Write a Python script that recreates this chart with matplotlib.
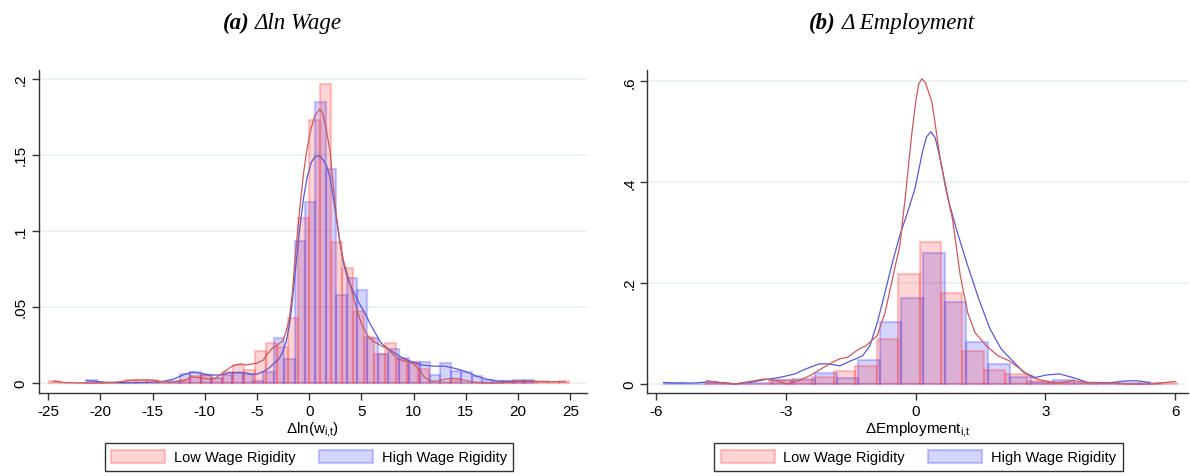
import numpy as np
import matplotlib
matplotlib.use("Agg")
import matplotlib.pyplot as plt
from matplotlib.patches import Patch

plt.rcParams['font.family'] = ['Liberation Sans Narrow', 'Liberation Sans', 'DejaVu Sans']
plt.rcParams['mathtext.fontset'] = 'custom'
plt.rcParams['mathtext.rm'] = 'Liberation Sans'
plt.rcParams['mathtext.it'] = 'Liberation Sans'

# ---------------- Panel (a): wage growth ----------------
wage_low_start, wage_low_width = -24.9, 1.038
wage_low_hist = [0.0015, 0.0, 0.0, 0.0, 0.0, 0.0, 0.0, 0.0018, 0.0018, 0.0018,
                 0.0005, 0.0, 0.002, 0.0044, 0.005, 0.003, 0.007, 0.0116, 0.0087,
                 0.021, 0.026, 0.0234, 0.0426, 0.1086, 0.173, 0.1965, 0.0925,
                 0.0758, 0.047, 0.030, 0.019, 0.026, 0.0155, 0.0137, 0.009, 0.0,
                 0.0005, 0.002, 0.0, 0.0, 0.0, 0.0, 0.0015, 0.0008, 0.0008, 0.0015,
                 0.0008, 0.0015]

wage_high_start, wage_high_width = -21.34, 0.997
wage_high_hist = [0.0022, 0.0, 0.0, 0.0, 0.0, 0.0, 0.0, 0.0, 0.0015, 0.006, 0.0075,
                  0.005, 0.003, 0.005, 0.0065, 0.006, 0.0015, 0.0074, 0.0295,
                  0.016, 0.0935, 0.1187, 0.1847, 0.1403, 0.0575, 0.0689, 0.0608,
                  0.0295, 0.019, 0.022, 0.0164, 0.0138, 0.0138, 0.0055, 0.013,
                  0.008, 0.0075, 0.0044, 0.002, 0.0012, 0.0015, 0.002, 0.002]

wage_low_kde_x = [-24.5, -23.5, -22, -20, -18.5, -17, -16, -15, -14, -13, -12, -11.3,
                  -10.5, -9.5, -9, -8.3, -7.5, -7, -6.5, -6, -5.5, -5, -4.4, -4, -3.5,
                  -3, -2.5, -2.2, -1.9, -1.6, -1.4, -1.1, -0.9, -0.55, -0.3, 0.1, 0.5,
                  1.0, 1.3, 1.6, 2.0, 2.3, 2.6, 3.0, 3.3, 3.6, 4.1, 4.6, 5.0, 5.5, 6.0,
                  6.5, 7.0, 7.5, 8.0, 8.5, 9.0, 9.5, 10.0, 10.5, 11.0, 11.5, 12.0,
                  12.5, 13.0, 13.8, 14.5, 15.0, 16, 17, 18, 19, 20, 21, 22, 23, 24.5]
wage_low_kde_y = [0.0012, 0.0003, 0.0, 0.0, 0.0005, 0.0018, 0.002, 0.0018, 0.0008,
                  0.0006, 0.0015, 0.004, 0.0035, 0.0025, 0.003, 0.0065, 0.0105, 0.012,
                  0.0125, 0.0118, 0.0125, 0.013, 0.015, 0.019, 0.023, 0.025, 0.028,
                  0.034, 0.042, 0.06, 0.078, 0.1, 0.115, 0.137, 0.15, 0.165, 0.175,
                  0.18, 0.177, 0.168, 0.152, 0.13, 0.11, 0.09, 0.08, 0.073, 0.06,
                  0.047, 0.039, 0.032, 0.028, 0.026, 0.024, 0.023, 0.019, 0.016,
                  0.0145, 0.014, 0.0125, 0.009, 0.004, 0.0015, 0.001, 0.0015, 0.0025,
                  0.003, 0.0025, 0.0015, 0.0003, 0.0, 0.0, 0.0005, 0.0012, 0.0012,
                  0.0008, 0.0008, 0.0008]

wage_high_kde_x = [-21.3, -20.5, -19.5, -18, -16, -15, -14, -13, -12, -11.2, -10.5,
                   -9.5, -8.5, -7.7, -6.7, -6, -5.4, -4.9, -4.4, -3.9, -3.5, -3.0,
                   -2.8, -2.5, -2.2, -1.9, -1.7, -1.45, -1.2, -0.9, -0.55, -0.2, 0.2,
                   0.6, 1.0, 1.4, 1.7, 2.0, 2.3, 2.6, 2.95, 3.3, 3.7, 4.1, 4.5, 4.9,
                   5.4, 5.9, 6.4, 6.8, 7.4, 8.1, 8.8, 9.4, 10.0, 10.6, 11.2, 12, 13,
                   14, 14.5, 15, 15.5, 16, 16.5, 17, 18, 19, 20, 21, 21.6]
wage_high_kde_y = [0.0015, 0.0012, 0.0004, 0.0002, 0.0003, 0.0005, 0.001, 0.0025,
                   0.0055, 0.0072, 0.0065, 0.0052, 0.0052, 0.0066, 0.007, 0.0065,
                   0.0055, 0.006, 0.0075, 0.0095, 0.012, 0.015, 0.017, 0.021, 0.027,
                   0.038, 0.048, 0.065, 0.082, 0.102, 0.121, 0.135, 0.145, 0.149,
                   0.149, 0.146, 0.142, 0.135, 0.122, 0.108, 0.092, 0.078, 0.068,
                   0.062, 0.056, 0.051, 0.045, 0.038, 0.032, 0.027, 0.023, 0.02,
                   0.017, 0.015, 0.0135, 0.012, 0.0115, 0.011, 0.011, 0.0095, 0.0085,
                   0.0075, 0.006, 0.0045, 0.0035, 0.0025, 0.0013, 0.001, 0.0013,
                   0.0013, 0.0012]

wage_xticks = [-25, -20, -15, -10, -5, 0, 5, 10, 15, 20, 25]
wage_yticks = [0, 0.05, 0.1, 0.15, 0.2]
wage_ytick_labels = ['0', '.05', '.1', '.15', '.2']

# ---------------- Panel (b): employment growth ----------------
emp_low_start, emp_low_width = -4.883, 0.497
emp_low_hist = [0.003, 0.001, 0.001, 0.007, 0.007, 0.014, 0.025, 0.035, 0.09, 0.218,
                0.282, 0.18, 0.066, 0.027, 0.019, 0.005, 0.004, 0.002, 0.001, 0.001,
                0.001, 0.002]

emp_high_start, emp_high_width = -5.83, 0.5
emp_high_hist = [0.002, 0.001, 0.003, 0.001, 0.002, 0.008, 0.01, 0.022, 0.011, 0.048,
                 0.122, 0.17, 0.259, 0.163, 0.084, 0.04, 0.0135, 0.004, 0.0086,
                 0.002, 0.002, 0.003, 0.002]

emp_low_kde_x = [-4.84, -4.54, -4.19, -3.84, -3.5, -3.23, -2.97, -2.71, -2.45, -2.19,
                 -1.93, -1.76, -1.58, -1.32, -1.15, -0.89, -0.71, -0.54, -0.37,
                 -0.23, -0.1, 0.0, 0.07, 0.14, 0.22, 0.3, 0.37, 0.45, 0.55, 0.68,
                 0.85, 1.03, 1.2, 1.37, 1.63, 1.9, 2.16, 2.42, 2.68, 3.03, 3.29,
                 3.63, 3.98, 4.42, 4.85, 5.46, 6.0]
emp_low_kde_y = [0.0066, 0.003, 0.0, 0.005, 0.01, 0.0066, 0.0, 0.0066, 0.0165, 0.03,
                 0.043, 0.05, 0.053, 0.069, 0.076, 0.096, 0.142, 0.208, 0.274, 0.38,
                 0.49, 0.56, 0.595, 0.605, 0.598, 0.578, 0.56, 0.515, 0.455, 0.393,
                 0.327, 0.215, 0.142, 0.102, 0.076, 0.056, 0.046, 0.03, 0.013, 0.005,
                 0.002, 0.0066, 0.003, 0.003, 0.0, 0.0, 0.005]

emp_high_kde_x = [-5.84, -5.58, -5.15, -4.71, -4.19, -3.84, -3.5, -3.15, -2.8, -2.54,
                  -2.23, -2.02, -1.76, -1.5, -1.23, -1.06, -0.89, -0.71, -0.54, -0.37,
                  -0.19, -0.02, 0.16, 0.25, 0.35, 0.45, 0.55, 0.77, 0.94, 1.2, 1.46,
                  1.72, 1.98, 2.24, 2.5, 2.77, 3.03, 3.33, 3.63, 3.98, 4.42, 4.85,
                  5.11, 5.42]
emp_high_kde_y = [0.003, 0.002, 0.002, 0.0046, 0.0, 0.003, 0.0086, 0.013, 0.02, 0.03,
                  0.04, 0.04, 0.036, 0.046, 0.056, 0.076, 0.122, 0.182, 0.241, 0.294,
                  0.34, 0.387, 0.462, 0.49, 0.5, 0.488, 0.452, 0.36, 0.307, 0.235,
                  0.168, 0.109, 0.069, 0.046, 0.023, 0.013, 0.018, 0.02, 0.013, 0.003,
                  0.002, 0.006, 0.0066, 0.003]

emp_xticks = [-6, -3, 0, 3, 6]
emp_yticks = [0, 0.2, 0.4, 0.6]
emp_ytick_labels = ['0', '.2', '.4', '.6']

legend_labels = ['Low Wage Rigidity', 'High Wage Rigidity']

# ---------------- Styling ----------------
W, H = 1190, 477
LOW_FILL = (1.0, 0.0, 0.0, 0.17)
LOW_EDGE = (1.0, 0.25, 0.25, 0.28)
HIGH_FILL = (0.0, 0.0, 1.0, 0.17)
HIGH_EDGE = (0.25, 0.25, 1.0, 0.28)
LOW_LINE = '#cc5a5a'
HIGH_LINE = '#5a5ad0'
GRID = '#eaf2f3'
TICK_FS = 11

fig = plt.figure(figsize=(W / 100, H / 100), dpi=100)


def px_axes(x0, x1, y0, y1):
    return fig.add_axes([x0 / W, 1 - y1 / H, (x1 - x0) / W, (y1 - y0) / H])


def draw_hist(ax, start, width, heights, fill, edge):
    heights = np.asarray(heights)
    lefts = start + width * np.arange(len(heights))
    ax.bar(lefts, heights, width=width, align='edge', color=fill,
           edgecolor=edge, linewidth=1.6, zorder=2)


def style_axes(ax, xticks, yticks, ylabels, xlim, ylim):
    ax.set_xlim(*xlim)
    ax.set_ylim(*ylim)
    ax.set_xticks(xticks)
    ax.set_xticklabels([str(t) for t in xticks], fontsize=TICK_FS)
    ax.set_yticks(yticks)
    ax.set_yticklabels(ylabels, fontsize=TICK_FS, rotation=90, va='center')
    for yt in yticks:
        ax.axhline(yt, color=GRID, lw=1.4, zorder=0)
    for side in ('top', 'right'):
        ax.spines[side].set_visible(False)
    for side in ('left', 'bottom'):
        ax.spines[side].set_linewidth(1.0)
        ax.spines[side].set_color('#333333')
    ax.tick_params(direction='out', length=5, width=1.0, color='#333333', pad=3)


# Panel (a)
ax1 = px_axes(38.7, 587, 70.7, 394)
draw_hist(ax1, wage_high_start, wage_high_width, wage_high_hist, HIGH_FILL, HIGH_EDGE)
draw_hist(ax1, wage_low_start, wage_low_width, wage_low_hist, LOW_FILL, LOW_EDGE)
ax1.plot(wage_high_kde_x, wage_high_kde_y, color=HIGH_LINE, lw=0.9, zorder=3)
ax1.plot(wage_low_kde_x, wage_low_kde_y, color=LOW_LINE, lw=0.9, zorder=3)
style_axes(ax1, wage_xticks, wage_yticks, wage_ytick_labels, (-25.9, 26.6), (-0.0066, 0.2058))
ax1.set_xlabel(r'$\Delta$ln(w$_{\mathregular{i{,}t}}$)', fontsize=TICK_FS, labelpad=1)

# Panel (b)
ax2 = px_axes(647.4, 1188, 70.7, 394)
draw_hist(ax2, emp_high_start, emp_high_width, emp_high_hist, HIGH_FILL, HIGH_EDGE)
draw_hist(ax2, emp_low_start, emp_low_width, emp_low_hist, LOW_FILL, LOW_EDGE)
ax2.plot(emp_high_kde_x, emp_high_kde_y, color=HIGH_LINE, lw=0.9, zorder=3)
ax2.plot(emp_low_kde_x, emp_low_kde_y, color=LOW_LINE, lw=0.9, zorder=3)
style_axes(ax2, emp_xticks, emp_yticks, emp_ytick_labels, (-6.21, 6.3), (-0.0178, 0.623))
ax2.set_xlabel(r'$\Delta$Employment$_{\mathregular{i{,}t}}$', fontsize=TICK_FS, labelpad=1)

# Panel titles
title_kw = dict(family=['Liberation Serif', 'DejaVu Serif'], style='italic', fontsize=16.5, va='center')
fig.text(250 / W, 1 - 23 / H, '(a)', weight='bold', ha='right', **title_kw)
fig.text(255 / W, 1 - 23 / H, 'Δln Wage', ha='left', **title_kw)
fig.text(836 / W, 1 - 23 / H, '(b)', weight='bold', ha='right', **title_kw)
fig.text(842 / W, 1 - 23 / H, 'Δ Employment', ha='left', **title_kw)

# Legends
handles = [Patch(facecolor=LOW_FILL, edgecolor=LOW_EDGE, linewidth=1.6),
           Patch(facecolor=HIGH_FILL, edgecolor=HIGH_EDGE, linewidth=1.6)]
for cx in (309, 918.5):
    leg = fig.legend(handles, legend_labels, loc='center', ncol=2,
                     bbox_to_anchor=(cx / W, 1 - 458 / H), fontsize=10.5,
                     frameon=True, fancybox=False, edgecolor='black',
                     handlelength=3.7, handleheight=1.0, columnspacing=1.6,
                     handletextpad=0.6, borderpad=0.45, borderaxespad=0)
    leg.get_frame().set_linewidth(1.0)

fig.savefig('out.png', dpi=100)
